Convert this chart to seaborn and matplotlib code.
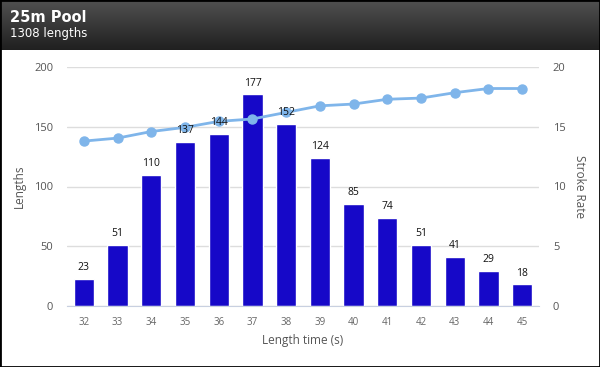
import numpy as np
import pandas as pd
import matplotlib
matplotlib.use("Agg")
import matplotlib.pyplot as plt
import seaborn as sns
from matplotlib.patches import Rectangle

# data
length_times = ["32", "33", "34", "35", "36", "37", "38", "39", "40", "41", "42", "43", "44", "45"]
lengths = [23, 51, 110, 137, 144, 177, 152, 124, 85, 74, 51, 41, 29, 18]
stroke_rate = [13.8, 14.05, 14.6, 14.95, 15.45, 15.65, 16.2, 16.75, 16.9, 17.3, 17.4, 17.85, 18.2, 18.2]

title = "25m Pool"
subtitle = "1308 lengths"

bar_color = "#1608c8"
line_color = "#7fb5ea"

df = pd.DataFrame({"time": length_times, "lengths": lengths, "rate": stroke_rate})

sns.set_style("white")
plt.rcParams["font.family"] = ["Open Sans", "DejaVu Sans"]

W, H = 600, 367
fig = plt.figure(figsize=(W / 100, H / 100), dpi=100)

# header bar with dark gradient
hdr = fig.add_axes([0, 1 - 50 / H, 1, 50 / H])
grad = np.linspace(0, 1, 64).reshape(-1, 1)
hdr.imshow(grad, aspect="auto", cmap=matplotlib.colors.LinearSegmentedColormap.from_list("h", ["#505050", "#202020"]),
           extent=[0, 1, 0, 1])
hdr.set_axis_off()
fig.text(10 / W, 1 - 17 / H, title, color="white", fontsize=10.5, fontweight="bold",
         family="DejaVu Sans", va="center", ha="left")
fig.text(10 / W, 1 - 34 / H, subtitle, color="white", fontsize=8.5,
         family="DejaVu Sans", va="center", ha="left")

ax = fig.add_axes([67 / W, 1 - 306 / H, 472 / W, 239 / H])
sns.barplot(data=df, x="time", y="lengths", color=bar_color, width=0.6, saturation=1, ax=ax)

ax.set_ylim(0, 200)
ax.set_xlim(-0.5, len(length_times) - 0.5)
ax.set_yticks([0, 50, 100, 150, 200])
ax.yaxis.grid(True, color="#dddddd", linewidth=1)
ax.set_axisbelow(True)
for s in ["top", "right", "left"]:
    ax.spines[s].set_visible(False)
ax.spines["bottom"].set_color("#c8d0e0")
ax.tick_params(axis="y", length=0, labelsize=8, labelcolor="#555555", pad=10)
ax.tick_params(axis="x", length=0, labelsize=7, labelcolor="#666666", pad=8)
ax.set_ylabel("Lengths", fontsize=8.5, color="#555555", labelpad=6)
ax.set_xlabel("Length time (s)", fontsize=8.5, color="#555555", labelpad=4)

ax2 = ax.twinx()
ax2.plot(np.arange(len(stroke_rate)), df["rate"], color=line_color, linewidth=2,
         marker="o", markersize=6.5, zorder=5)
ax2.set_ylim(0, 20)
ax2.set_yticks([0, 5, 10, 15, 20])
for s in ["top", "right", "left", "bottom"]:
    ax2.spines[s].set_visible(False)
ax2.tick_params(axis="y", length=0, labelsize=8, labelcolor="#555555", pad=10)
ax2.set_ylabel("Stroke Rate", fontsize=8.5, color="#555555", rotation=270, labelpad=15)
ax2.grid(False)

# value labels drawn above the line
for i, v in enumerate(df["lengths"]):
    ax2.text(i, v + 5, str(v), ha="center", va="bottom", fontsize=7.5, color="#111111",
             transform=ax.transData, zorder=6)

# outer border
fig.patches.append(Rectangle((0, 0), 1, 1, transform=fig.transFigure, fill=False,
                             edgecolor="black", linewidth=2, zorder=10))

fig.savefig("out.png", dpi=100)
